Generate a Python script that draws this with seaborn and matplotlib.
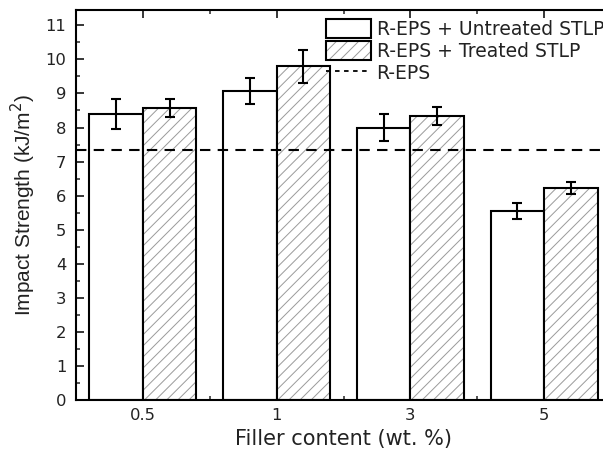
import pandas as pd
import matplotlib
matplotlib.use('Agg')
import matplotlib.pyplot as plt
import matplotlib.colors as mcolors
from matplotlib.patches import Patch
from matplotlib.lines import Line2D
from matplotlib.ticker import MultipleLocator, AutoMinorLocator
import seaborn as sns

# Values
filler = ['0.5', '1', '3', '5']
untreated = [8.40, 9.07, 8.00, 5.55]
untreated_err = [0.43, 0.37, 0.40, 0.23]
treated = [8.58, 9.80, 8.33, 6.23]
treated_err = [0.27, 0.48, 0.26, 0.18]
reps_value = 7.33
groups = ['R-EPS + Untreated STLP', 'R-EPS + Treated STLP']

sns.set_style('ticks')
plt.rcParams['font.family'] = ['DejaVu Sans']
plt.rcParams['hatch.linewidth'] = 0.7

df = pd.DataFrame({
    'filler': filler * 2,
    'value': untreated + treated,
    'group': [groups[0]] * len(filler) + [groups[1]] * len(filler),
})

fig = plt.figure(figsize=(6.03, 4.61), dpi=100)
# axes runs a little past the right edge, like the cropped original
ax = fig.add_axes([76 / 603, 61 / 461, 535 / 603, 390 / 461])

sns.barplot(data=df, x='filler', y='value', hue='group', order=filler,
            hue_order=groups, palette=['white', 'white'], saturation=1,
            edgecolor='black', linewidth=1.5, errorbar=None, legend=False,
            width=0.8, ax=ax)


def grey_hatch(p, hatch='///'):
    p.set_hatch(hatch)
    p.set_edgecolor('#9a9a9a')          # hatch takes this colour
    p._edgecolor = mcolors.to_rgba('black')  # outline stays black


for bar in ax.containers[1]:
    grey_hatch(bar)

# error bars at the bar centres
for cont, err in zip(ax.containers, [untreated_err, treated_err]):
    xs = [b.get_x() + b.get_width() / 2 for b in cont]
    ys = [b.get_height() for b in cont]
    ax.errorbar(xs, ys, yerr=err, fmt='none', ecolor='black',
                elinewidth=1.5, capsize=3.6, capthick=1.5, zorder=5)

ax.axhline(reps_value, color='black', linestyle=(0, (5, 3.5)), lw=1.5, zorder=6)

ax.set_xlim(-0.5, 3.5)
ax.set_ylim(0, 11.45)
ax.yaxis.set_major_locator(MultipleLocator(1))
ax.yaxis.set_minor_locator(AutoMinorLocator(2))
ax.xaxis.set_minor_locator(AutoMinorLocator(2))
ax.tick_params(which='both', direction='in', top=True, right=True, width=1.1)
ax.tick_params(which='major', length=6)
ax.tick_params(which='minor', length=3)
ax.tick_params(axis='y', labelsize=11.8, pad=7, colors='black', labelcolor='#222222')
ax.tick_params(axis='x', labelsize=11.8, pad=6, colors='black', labelcolor='#222222')
for s in ax.spines.values():
    s.set_linewidth(1.5)
    s.set_color('black')

ax.set_xlabel('Filler content (wt. %)', fontsize=15, labelpad=4, color='#222222')
ax.set_ylabel('Impact Strength (kJ/m$^2$)', fontsize=15, labelpad=5,
              family=['Liberation Sans', 'DejaVu Sans'], color='#222222')

# legend
h_treated = Patch(facecolor='white', edgecolor='black', lw=1.5)
grey_hatch(h_treated)
handles = [Patch(facecolor='white', edgecolor='black', lw=1.5), h_treated,
           Line2D([], [], color='black', lw=1.3, linestyle=(0, (2.5, 2.5)))]
ax.legend(handles, groups + ['R-EPS'], loc='upper left',
          bbox_to_anchor=(326 / 603, 1 - 19 / 461), bbox_transform=fig.transFigure,
          frameon=False, borderpad=0, borderaxespad=0, fontsize=13.5,
          handlelength=2.4, handleheight=1.17, handletextpad=0.3, labelspacing=0.12,
          labelcolor='#222222')

fig.savefig('out.png', dpi=100)
